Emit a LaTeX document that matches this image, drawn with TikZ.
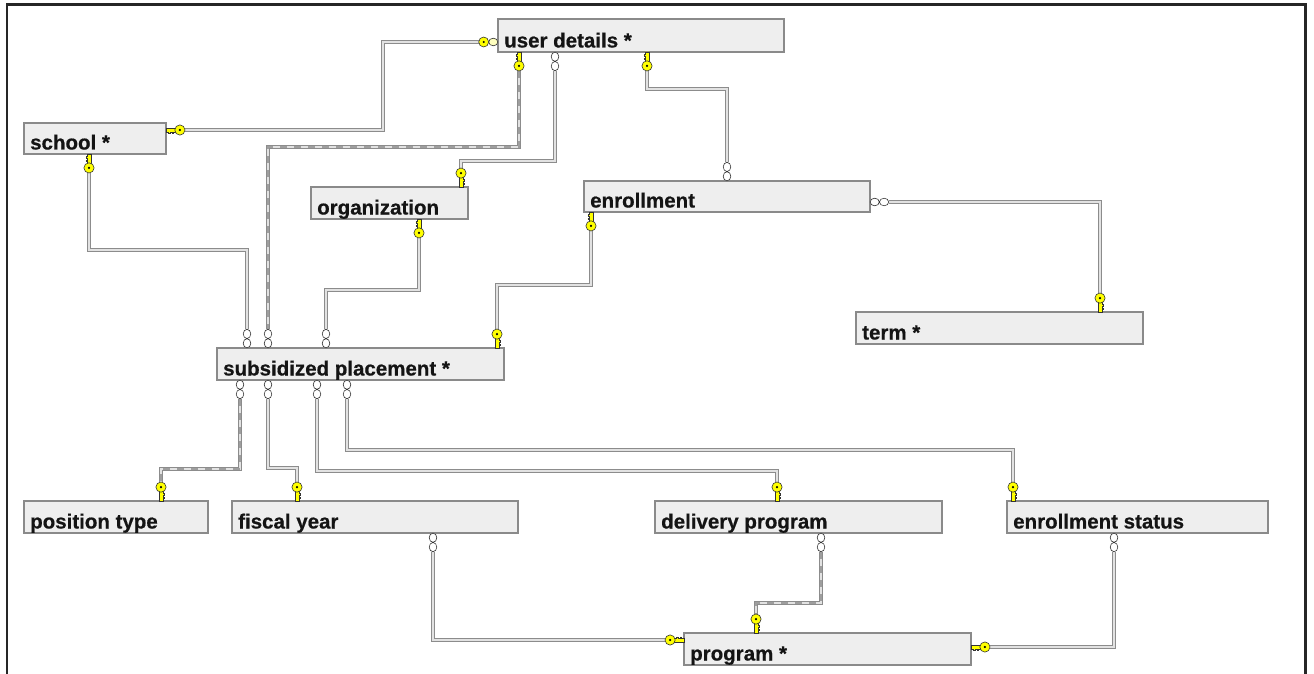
\documentclass[tikz,border=0pt]{standalone}
\usepackage{fontspec}
\setmainfont{Liberation Sans}
\newfontfamily\tblfont[FakeBold=0.6]{Liberation Sans Bold}
\definecolor{keyyellow}{HTML}{FFFF00}
\definecolor{boxfill}{HTML}{EEEEEE}
\definecolor{boxline}{HTML}{8A8A8A}
\definecolor{relout}{HTML}{8C8C8C}
\definecolor{relin}{HTML}{E2E2E2}

% entity box: name, x1, y1, x2, y2, caption (caption clipped to the box)
\newcommand\erentity[6]{%
  \node[tbl, minimum width={(#4-#2)*1pt}, minimum height={(#5-#3)*1pt}] (#1) at (#2,#3) {};
  \begin{scope}
    \clip ([xshift=0.6pt,yshift=0.6pt]#1.south west) rectangle ([xshift=-0.6pt,yshift=-0.6pt]#1.north east);
    \node[tbltext] at ([xshift=6pt,yshift=4.5pt]#1.south west) {#6};
  \end{scope}}

\begin{document}
\begin{tikzpicture}[x=1pt,y=-1pt,
  tbl/.style={draw=boxline, fill=boxfill, line width=1.1pt, inner sep=0pt, outer sep=0pt, anchor=north west},
  tbltext/.style={font=\fontsize{20.5}{24}\tblfont, anchor=base west, inner sep=0pt, text=black!92},
  rel/.style={draw=relin, line width=1.8pt, line join=miter,
    preaction={draw=relout, line width=4.4pt}},
  idrel/.style={rel, postaction={draw=black!38, line width=1.2pt, dash pattern=on 7pt off 7pt}},
  frame/.style={draw=black!85, line width=2.2pt},
  keyglyph/.pic={
    \path[fill=keyyellow, draw=black!80, line width=0.6pt]
      (0,-1.9) -- (10,-1.9) -- (10,1.9) -- (7.5,1.9) -- (7.5,3.2) -- (6,3.2) -- (6,1.9)
      -- (4,1.9) -- (4,3.2) -- (2.5,3.2) -- (2.5,1.9) -- (0,1.9) -- cycle;
    \path[fill=keyyellow, draw=black!80, line width=0.6pt] (13.9,0) circle[radius=5.1];
    \fill[black] (13.9,0) circle[radius=1.2];
  },
  manyglyph/.pic={
    \path[fill=white, draw=black!80, line width=0.6pt]
      (4.7,0) ellipse[x radius=4.6, y radius=3.8]
      (14.1,0) ellipse[x radius=4.6, y radius=3.8];
  },
  manykeyglyph/.pic={
    \path[fill=keyyellow!25, draw=black!80, line width=0.6pt]
      (4.7,0) ellipse[x radius=4.6, y radius=3.8];
    \path[fill=keyyellow, draw=black!80, line width=0.6pt]
      (14.3,0) circle[radius=5];
    \fill[black] (14.3,0) circle[radius=1.2];
  }]
\useasboundingbox (0,0) rectangle (1314,674);

% entities
\erentity{ud}{498}{19}{784}{52}{user details *}
\erentity{school}{24}{123}{166}{154}{school *}
\erentity{org}{311}{187}{468}{219}{organization}
\erentity{enr}{584}{181}{870}{212}{enrollment}
\erentity{term}{856}{312}{1143}{344}{term *}
\erentity{sp}{217}{348}{504}{380}{subsidized placement *}
\erentity{pos}{24}{501}{208}{533}{position type}
\erentity{fy}{232}{501}{518}{533}{fiscal year}
\erentity{dp}{655}{501}{942}{533}{delivery program}
\erentity{es}{1007}{501}{1268}{533}{enrollment status}
\erentity{prog}{684}{633}{971}{665}{program *}

% attachment points on the entity borders
\coordinate (ud-w)  at (ud.west |- 0,42);
\coordinate (ud-s1) at (519,0 |- ud.south);
\coordinate (ud-s2) at (555,0 |- ud.south);
\coordinate (ud-s3) at (647,0 |- ud.south);
\coordinate (school-e) at (school.east |- 0,130);
\coordinate (school-s) at (89,0 |- school.south);
\coordinate (org-n) at (461,0 |- org.north);
\coordinate (org-s) at (419,0 |- org.south);
\coordinate (enr-n) at (727,0 |- enr.north);
\coordinate (enr-e) at (enr.east |- 0,202);
\coordinate (enr-s) at (591,0 |- enr.south);
\coordinate (term-n) at (1100,0 |- term.north);
\coordinate (sp-n1) at (247,0 |- sp.north);
\coordinate (sp-n2) at (268,0 |- sp.north);
\coordinate (sp-n3) at (326,0 |- sp.north);
\coordinate (sp-n4) at (497,0 |- sp.north);
\coordinate (sp-s1) at (240,0 |- sp.south);
\coordinate (sp-s2) at (268,0 |- sp.south);
\coordinate (sp-s3) at (317,0 |- sp.south);
\coordinate (sp-s4) at (347,0 |- sp.south);
\coordinate (pos-n) at (161,0 |- pos.north);
\coordinate (fy-n) at (297,0 |- fy.north);
\coordinate (fy-s) at (433,0 |- fy.south);
\coordinate (dp-n) at (777,0 |- dp.north);
\coordinate (dp-s) at (821,0 |- dp.south);
\coordinate (es-n) at (1013,0 |- es.north);
\coordinate (es-s) at (1114,0 |- es.south);
\coordinate (prog-w) at (prog.west |- 0,640);
\coordinate (prog-n) at (756,0 |- prog.north);
\coordinate (prog-e) at (prog.east |- 0,647);

% relationships
\draw[rel]   ([xshift=-19pt]ud-w) -| (383,130) -- ([xshift=19pt]school-e);
\draw[idrel] ([yshift=-19pt]ud-s1) |- (268,147) -- ([yshift=19pt]sp-n2);
\draw[rel]   ([yshift=-19pt]ud-s2) |- (461,161) -- ([yshift=19pt]org-n);
\draw[rel]   ([yshift=-19pt]ud-s3) |- (727,89) -- ([yshift=19pt]enr-n);
\draw[rel]   ([xshift=19pt]enr-e) -| ([yshift=19pt]term-n);
\draw[rel]   ([yshift=-19pt]school-s) |- (247,250) -- ([yshift=19pt]sp-n1);
\draw[rel]   ([yshift=-19pt]org-s) |- (326,290) -- ([yshift=19pt]sp-n3);
\draw[rel]   ([yshift=-19pt]enr-s) |- (497,285) -- ([yshift=19pt]sp-n4);
\draw[idrel] ([yshift=-19pt]sp-s1) |- (161,469) -- ([yshift=19pt]pos-n);
\draw[rel]   ([yshift=-19pt]sp-s2) |- (297,468) -- ([yshift=19pt]fy-n);
\draw[rel]   ([yshift=-19pt]sp-s3) |- (777,471) -- ([yshift=19pt]dp-n);
\draw[rel]   ([yshift=-19pt]sp-s4) |- (1013,450) -- ([yshift=19pt]es-n);
\draw[rel]   ([yshift=-19pt]fy-s) |- ([xshift=-19pt]prog-w);
\draw[idrel] ([yshift=-19pt]dp-s) |- (756,603) -- ([yshift=19pt]prog-n);
\draw[rel]   ([yshift=-19pt]es-s) |- ([xshift=19pt]prog-e);

% relationship end symbols
\pic[rotate=180] at (ud-w) {manykeyglyph};
\pic[rotate=-90] at (ud-s1) {keyglyph};
\pic[rotate=-90] at (ud-s2) {manyglyph};
\pic[rotate=-90] at (ud-s3) {keyglyph};
\pic at (school-e) {keyglyph};
\pic[rotate=-90] at (school-s) {keyglyph};
\pic[rotate=90] at (org-n) {keyglyph};
\pic[rotate=-90] at (org-s) {keyglyph};
\pic[rotate=90] at (enr-n) {manyglyph};
\pic at (enr-e) {manyglyph};
\pic[rotate=-90] at (enr-s) {keyglyph};
\pic[rotate=90] at (term-n) {keyglyph};
\pic[rotate=90] at (sp-n1) {manyglyph};
\pic[rotate=90] at (sp-n2) {manyglyph};
\pic[rotate=90] at (sp-n3) {manyglyph};
\pic[rotate=90] at (sp-n4) {keyglyph};
\pic[rotate=-90] at (sp-s1) {manyglyph};
\pic[rotate=-90] at (sp-s2) {manyglyph};
\pic[rotate=-90] at (sp-s3) {manyglyph};
\pic[rotate=-90] at (sp-s4) {manyglyph};
\pic[rotate=90] at (pos-n) {keyglyph};
\pic[rotate=90] at (fy-n) {keyglyph};
\pic[rotate=90] at (dp-n) {keyglyph};
\pic[rotate=90] at (es-n) {keyglyph};
\pic[rotate=-90] at (fy-s) {manyglyph};
\pic[rotate=-90] at (dp-s) {manyglyph};
\pic[rotate=-90] at (es-s) {manyglyph};
\pic[rotate=180] at (prog-w) {keyglyph};
\pic[rotate=90] at (prog-n) {keyglyph};
\pic at (prog-e) {keyglyph};

% outer frame
\draw[frame] (7,674) -- (7,4.5) -- (1305.5,4.5) -- (1305.5,674);
\end{tikzpicture}
\end{document}
